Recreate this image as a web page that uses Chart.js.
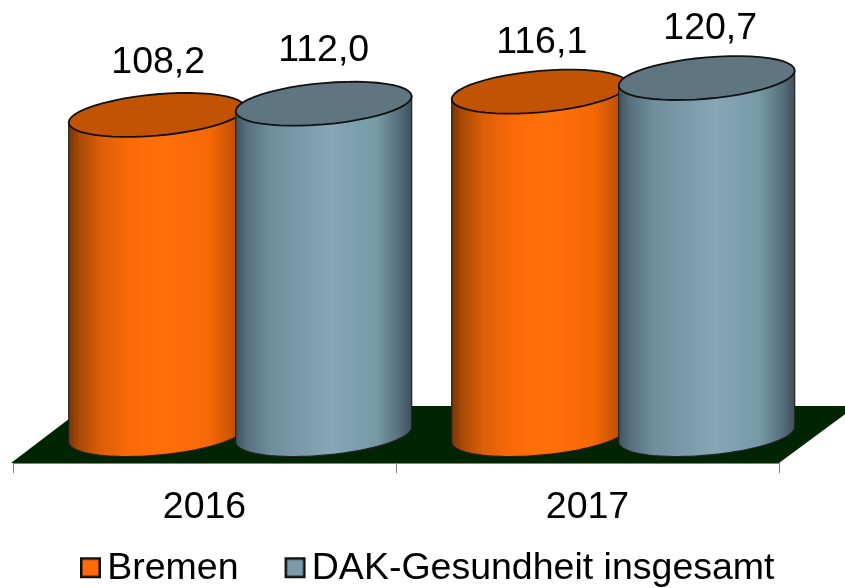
<!DOCTYPE html>
<html><head><meta charset="utf-8">
<style>html,body{margin:0;padding:0;background:#fff}canvas{display:block}</style>
<script src="https://cdn.jsdelivr.net/npm/chart.js@4"></script></head>
<body><canvas id="c" width="845" height="588"></canvas>
<script>
const categories = ["2016", "2017"];
const seriesNames = ["Bremen", "DAK-Gesundheit insgesamt"];
const bremen = [108.2, 116.1];
const dak = [112.0, 120.7];

const FONT = '"Liberation Sans", Arial, sans-serif';
const FS = 37.5;
const depthX = 35.7, depthY = 28.5;      // 3D offset of the columns on the floor
const floorX = 75, floorY = 57;          // floor depth
const shear = -0.085, minor = 20.7;      // ellipse shape
const labelLift = [42.4, 39.1];          // value label height above the column top, per category
const labelShift = [[1.5, 0], [2, 3.5]]; // value label sideways nudge, per category and series
const themes = [
  {top:'#c25305', swatch:'#ff6a0a', stops:[[0,'#7a3606'],[.06,'#a84a06'],[.18,'#dc5e08'],[.35,'#fb6a08'],[.55,'#ff700a'],[.8,'#f56806'],[.93,'#c85304'],[1,'#9a4203']]},
  {top:'#5f7680', swatch:'#7d9aad', stops:[[0,'#3f525c'],[.06,'#566f7c'],[.2,'#6f8f9c'],[.55,'#87a6b7'],[.8,'#769aa5'],[.93,'#566f7c'],[1,'#3f4f5a']]}
];

function swatch(color){
  const s = document.createElement('canvas'); s.width = 100; s.height = 24;
  const g = s.getContext('2d');
  g.fillStyle = color; g.strokeStyle = '#111'; g.lineWidth = 2.5;
  g.fillRect(61.25,2.25,18.5,18.5); g.strokeRect(61.25,2.25,18.5,18.5);
  return s;
}

function curve(ctx, cx, cy, a, from, to, first){
  const n = 48;
  for(let i=0;i<=n;i++){
    const t = from + (to-from)*i/n;
    const x = cx + a*Math.cos(t), y = cy + shear*a*Math.cos(t) + minor*Math.sin(t);
    if(first && i===0) ctx.moveTo(x,y); else ctx.lineTo(x,y);
  }
}

const cylinders = {
  id:'cylinders',
  beforeDatasetsDraw(chart){
    const {ctx, chartArea:ca} = chart;
    ctx.save();
    ctx.fillStyle = '#012503';
    ctx.beginPath();
    ctx.moveTo(ca.left-2, ca.bottom);
    ctx.lineTo(ca.left-2+floorX, ca.bottom-floorY);
    ctx.lineTo(ca.right+floorX+2, ca.bottom-floorY);
    ctx.lineTo(ca.right, ca.bottom);
    ctx.closePath(); ctx.fill();
    ctx.restore();
  },
  afterDatasetsDraw(chart){
    const ctx = chart.ctx;
    categories.forEach((_, i)=>{
      chart.data.datasets.forEach((ds, d)=>{
        const el = chart.getDatasetMeta(d).data[i];
        const cx = el.x + depthX, top = el.y - depthY, base = el.base - depthY, a = el.width/2;
        const th = themes[d];
        ctx.save();
        const g = ctx.createLinearGradient(cx-a,0,cx+a,0);
        th.stops.forEach(s=>g.addColorStop(s[0],s[1]));
        ctx.beginPath();
        curve(ctx,cx,top,a,Math.PI,Math.PI,true);
        curve(ctx,cx,base,a,Math.PI,0,false);
        curve(ctx,cx,top,a,0,0,false);
        ctx.closePath();
        ctx.fillStyle = g; ctx.fill();
        ctx.strokeStyle = '#222'; ctx.lineWidth = 1.2; ctx.stroke();
        ctx.beginPath();
        curve(ctx,cx,top,a,0,Math.PI*2,true);
        ctx.closePath();
        ctx.fillStyle = th.top; ctx.fill();
        ctx.strokeStyle = '#111'; ctx.lineWidth = 1.8; ctx.stroke();
        ctx.fillStyle = '#000';
        ctx.font = FS+'px '+FONT;
        ctx.textAlign = 'center'; ctx.textBaseline = 'alphabetic';
        ctx.fillText(ds.data[i].toFixed(1).replace('.',','), cx+labelShift[i][d], top-labelLift[i]);
        ctx.restore();
      });
    });
  }
};

new Chart(document.getElementById('c'), {
  type:'bar',
  data:{
    labels:categories,
    datasets:[
      {label:seriesNames[0], data:bremen, backgroundColor:'transparent', borderWidth:0},
      {label:seriesNames[1], data:dak, backgroundColor:'transparent', borderWidth:0}
    ]
  },
  options:{
    responsive:false, animation:false,
    categoryPercentage:0.872, barPercentage:1.054,
    layout:{padding:{left:13,right:32,top:20,bottom:-9}},
    plugins:{
      tooltip:{enabled:false},
      legend:{
        position:'bottom',
        labels:{
          usePointStyle:true, boxWidth:37, boxHeight:36, padding:17.5,
          color:'#000', font:{family:FONT,size:FS},
          generateLabels:(chart)=>chart.data.datasets.map((ds,i)=>({
            text:ds.label, pointStyle:swatch(themes[i].swatch), datasetIndex:i,
            fillStyle:themes[i].swatch, strokeStyle:'#111', lineWidth:2.5, fontColor:'#000'
          }))
        }
      }
    },
    scales:{
      x:{
        grid:{display:true, drawOnChartArea:false, drawTicks:true, tickLength:10, color:'#808080', lineWidth:1},
        border:{display:true, color:'#808080', width:1},
        ticks:{color:'#000', font:{family:FONT,size:FS}, padding:12, maxRotation:0},
        afterFit(scale){ scale.height -= 10; }
      },
      y:{
        position:'right', min:0, max:150,
        grid:{display:false}, border:{display:false}, ticks:{display:false},
        afterFit(scale){ scale.width = 34; }
      }
    }
  },
  plugins:[cylinders]
});
</script></body></html>
